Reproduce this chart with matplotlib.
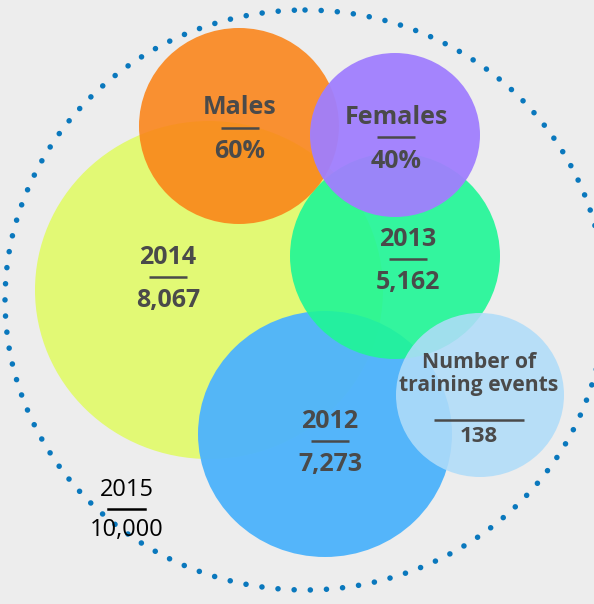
import matplotlib
matplotlib.use("Agg")
import matplotlib.pyplot as plt
from matplotlib.patches import Ellipse

# ------------------------------------------------------------------
# Data
labels = ["2014", "2012", "2013", "Males", "Females", "Number of\ntraining events"]
values = ["8,067", "7,273", "5,162", "60%", "40%", "138"]
total_label = "2015"
total_value = "10,000"

# Layout (pixel coordinates, y down) and styles
centers = [(209, 290), (325, 434), (395, 256), (239, 126), (395, 135), (480, 395)]
radii = [(174, 169), (127, 123), (105, 103), (100, 98), (85, 82), (84, 82)]
colors = ["#e2f975", "#4fb4fb", "#1ff696", "#fb8317", "#a07ffe", "#b0dcf9"]
alphas = [1.0, 0.97, 0.9, 0.88, 0.95, 0.88]
text_pos = [(168, 257), (330, 421), (408, 239), (240, 108), (396, 117), (479, 374)]
line_w = [38, 38, 38, 38, 38, 90]
text_col = "#4a4a4a"
bg = "#ededed"
# ------------------------------------------------------------------

W, H = 594, 604
fig = plt.figure(figsize=(W / 100, H / 100), dpi=100, facecolor=bg)
ax = fig.add_axes([0, 0, 1, 1])
ax.set_xlim(0, W)
ax.set_ylim(H, 0)
ax.axis("off")
ax.set_facecolor(bg)

# Dotted outer ring (2015)
ring = Ellipse((305, 300), 2 * 300, 2 * 290, fill=False, edgecolor="#0a78bd",
               linewidth=4.0, linestyle=(0, (0.01, 2.9)), capstyle="round")
ax.add_patch(ring)

for c, r, col, a in zip(centers, radii, colors, alphas):
    ax.add_patch(Ellipse(c, 2 * r[0], 2 * r[1], facecolor=col, alpha=a,
                         edgecolor="none"))

font = "Open Sans"
for lab, val, (x, y), lw in zip(labels, values, text_pos, line_w):
    multi = "\n" in lab
    fs = 15.2 if multi else 18
    ax.text(x, y, lab, ha="center", va="center", fontsize=fs, fontweight="bold",
            color=text_col, family=font, linespacing=1.1)
    ly = y + (46 if multi else 20)
    ax.plot([x - lw / 2, x + lw / 2], [ly, ly], color=text_col, lw=1.8,
            solid_capstyle="butt")
    ax.text(x, ly + (17 if multi else 24), val, ha="center", va="center",
            fontsize=18 if not multi else 16, fontweight="bold",
            color=text_col, family=font)

# 2015 label
ax.text(127, 490, total_label, ha="center", va="center", fontsize=17,
        color="black", family=font)
ax.plot([108, 145], [509, 509], color="black", lw=1.8)
ax.text(127, 530, total_value, ha="center", va="center", fontsize=17,
        color="black", family=font)

fig.savefig("out.png", dpi=100, facecolor=bg)
